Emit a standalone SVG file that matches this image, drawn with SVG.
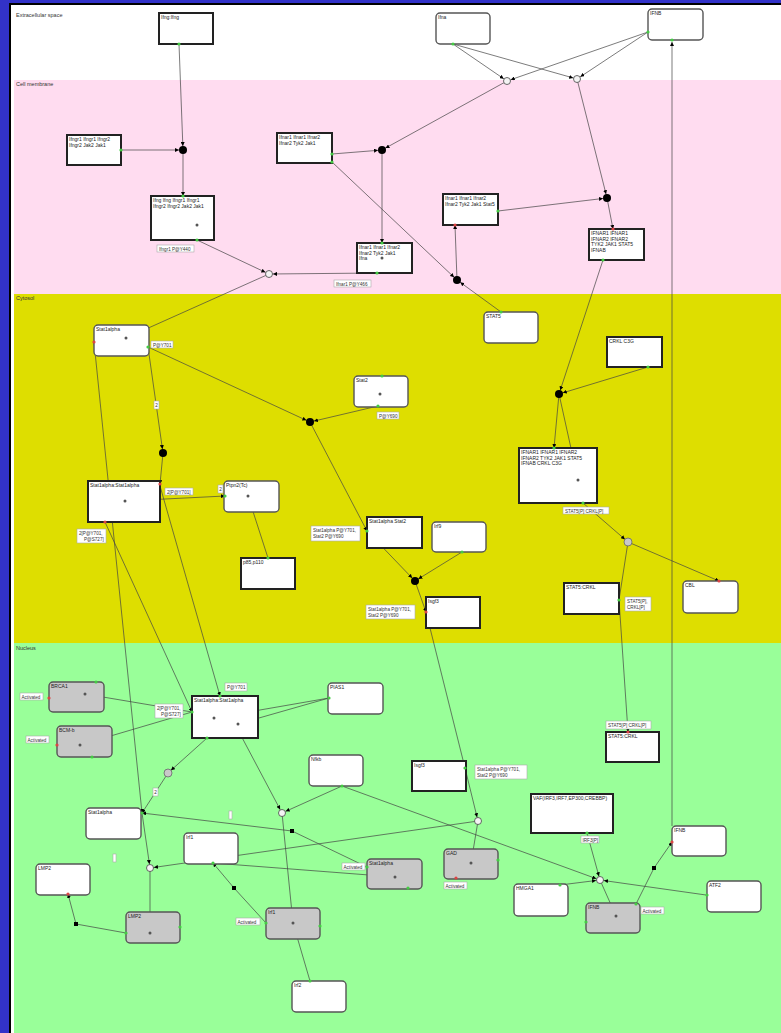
<svg xmlns="http://www.w3.org/2000/svg" width="781" height="1033" viewBox="0 0 781 1033">
<style>
.cx{fill:#fff;stroke:#222;stroke-width:2}
.pr{fill:#fff;stroke:#555;stroke-width:1.4}
.gn{fill:#c8c8c8;stroke:#555;stroke-width:1.4}
.t{font-family:"Liberation Sans",Arial,sans-serif;font-size:5px;fill:#222}
.ct{font-family:"Liberation Sans",Arial,sans-serif;font-size:5.5px;fill:#333}
.lt{font-family:"Liberation Sans",Arial,sans-serif;font-size:4.6px;fill:#333}
.lb{fill:#fff;stroke:#aaa;stroke-width:0.6}
.e{stroke:#444;stroke-width:0.7;fill:none}
.pg{fill:#44cc44}
.pd{fill:#dd4444}
.dot{fill:#000}
.pc{fill:#f4f4f4;stroke:#444;stroke-width:0.8}
.gc{fill:#c8c8c8;stroke:#666;stroke-width:0.8}
.ip{fill:#555}
</style>
<defs>
<marker id="a" viewBox="0 0 10 10" refX="10" refY="5" markerWidth="4" markerHeight="4" orient="auto" markerUnits="userSpaceOnUse"><path d="M0,0 L10,5 L0,10 z" fill="#000"/></marker>
<marker id="ad" viewBox="0 0 10 10" refX="20" refY="5" markerWidth="4" markerHeight="4" orient="auto" markerUnits="userSpaceOnUse"><path d="M0,0 L10,5 L0,10 z" fill="#000"/></marker>
</defs>
<rect x="0" y="0" width="781" height="1033" fill="#3232c8"/>
<rect x="10" y="4" width="771" height="1029" fill="#fff"/>
<path d="M10,1033 L10,4 L781,4" fill="none" stroke="#000" stroke-width="2"/>
<g id="compartments">
<rect x="14" y="80" width="767" height="214" fill="#ffdcf0"/>
<rect x="14" y="294" width="767" height="349" fill="#dede00"/>
<rect x="14" y="643" width="767" height="390" fill="#99ff99"/>
<text class="ct" x="16" y="17">Extracellular space</text>
<text class="ct" x="16" y="86">Cell membrane</text>
<text class="ct" x="16" y="300">Cytosol</text>
<text class="ct" x="16" y="650">Nucleus</text>
</g>
<g id="connectors">
<path class="e" d="M179,44 L183,150" marker-end="url(#ad)"/>
<path class="e" d="M121,150 L183,150" marker-end="url(#ad)"/>
<path class="e" d="M183,150 L183,196" marker-end="url(#a)"/>
<path class="e" d="M197,240 L269,274" marker-end="url(#ad)"/>
<path class="e" d="M377,273 L269,274" marker-end="url(#ad)"/>
<path class="e" d="M269,274 L126,338" marker-end="url(#a)"/>
<path class="e" d="M94,342 L126,338 L148,347"/>
<path class="e" d="M453,44 L507,81" marker-end="url(#ad)"/>
<path class="e" d="M453,44 L577,79" marker-end="url(#ad)"/>
<path class="e" d="M648,32 L507,81" marker-end="url(#ad)"/>
<path class="e" d="M648,32 L577,79" marker-end="url(#ad)"/>
<path class="e" d="M507,81 L382,150" marker-end="url(#ad)"/>
<path class="e" d="M577,79 L607,198" marker-end="url(#ad)"/>
<path class="e" d="M332,154 L382,150" marker-end="url(#ad)"/>
<path class="e" d="M382,150 L382,243" marker-end="url(#a)"/>
<path class="e" d="M332,162 L457,280" marker-end="url(#ad)"/>
<path class="e" d="M498,211 L607,198" marker-end="url(#ad)"/>
<path class="e" d="M607,198 L613,229" marker-end="url(#a)"/>
<path class="e" d="M501,312 L457,280" marker-end="url(#ad)"/>
<path class="e" d="M457,280 L455,225" marker-end="url(#a)"/>
<path class="e" d="M183,196 L197,225" marker-end="url(#a)"/>
<path class="e" d="M197,225 L197,240"/>
<path class="e" d="M382,243 L382,258" marker-end="url(#a)"/>
<path class="e" d="M382,258 L377,273"/>
<path class="e" d="M603,260 L559,394" marker-end="url(#ad)"/>
<path class="e" d="M648,367 L559,394" marker-end="url(#ad)"/>
<path class="e" d="M559,394 L554,448" marker-end="url(#a)"/>
<path class="e" d="M559,394 L578,480" marker-end="url(#a)"/>
<path class="e" d="M578,480 L583,503"/>
<path class="e" d="M583,503 L628,542" marker-end="url(#ad)"/>
<path class="e" d="M628,542 L719,581" marker-end="url(#a)"/>
<path class="e" d="M628,542 L619,600 L628,732" marker-end="url(#a)"/>
<path class="e" d="M148,347 L310,422" marker-end="url(#ad)"/>
<path class="e" d="M378,406 L310,422" marker-end="url(#ad)"/>
<path class="e" d="M382,376 L380,394" marker-end="url(#a)"/>
<path class="e" d="M380,394 L378,406"/>
<path class="e" d="M310,422 L367,531" marker-end="url(#a)"/>
<path class="e" d="M367,531 L415,581" marker-end="url(#ad)"/>
<path class="e" d="M462,552 L415,581" marker-end="url(#ad)"/>
<path class="e" d="M415,581 L426,612" marker-end="url(#a)"/>
<path class="e" d="M426,612 L465,768" marker-end="url(#a)"/>
<path class="e" d="M465,768 L478,821" marker-end="url(#ad)"/>
<path class="e" d="M148,347 L163,453" marker-end="url(#ad)"/>
<path class="e" d="M163,453 L160,484" marker-end="url(#a)"/>
<path class="e" d="M160,486 L220,696" marker-end="url(#a)"/>
<path class="e" d="M94,342 L142,813" marker-end="url(#a)"/>
<path class="e" d="M105,522 L192,712" marker-end="url(#a)"/>
<path class="e" d="M105,522 L125,501" marker-end="url(#a)"/>
<path class="e" d="M125,501 L225,496" marker-end="url(#a)"/>
<path class="e" d="M225,496 L248,496" marker-end="url(#a)"/>
<path class="e" d="M248,496 L268,558"/>
<path class="e" d="M49,698 L85,694 L96,682"/>
<path class="e" d="M85,694 L192,712"/>
<path class="e" d="M57,745 L80,745 L92,757"/>
<path class="e" d="M80,745 L192,712"/>
<path class="e" d="M192,712 L214,718 L207,738"/>
<path class="e" d="M220,696 L238,724"/>
<path class="e" d="M207,738 L168,773" marker-end="url(#ad)"/>
<path class="e" d="M168,773 L142,813" marker-end="url(#a)"/>
<path class="e" d="M220,696 L282,813" marker-end="url(#ad)"/>
<path class="e" d="M329,698 L214,718"/>
<path class="e" d="M329,698 L238,724"/>
<path class="e" d="M342,786 L282,813" marker-end="url(#ad)"/>
<path class="e" d="M342,786 L600,880" marker-end="url(#ad)"/>
<path class="e" d="M282,813 L293,923 L310,981"/>
<path class="e" d="M478,821 L150,868" marker-end="url(#ad)"/>
<path class="e" d="M478,821 L471,863" marker-end="url(#a)"/>
<path class="e" d="M456,878 L471,863 L498,860"/>
<path class="e" d="M367,867 L292,831 L142,813" marker-end="url(#a)"/>
<path class="e" d="M142,813 L150,868" marker-end="url(#ad)"/>
<path class="e" d="M150,868 L150,933" marker-end="url(#a)"/>
<path class="e" d="M126,933 L150,933 L180,927"/>
<path class="e" d="M126,933 L76,924 L68,894" marker-end="url(#a)"/>
<path class="e" d="M266,923 L234,888 L213,863" marker-end="url(#a)"/>
<path class="e" d="M266,923 L293,923 L320,926"/>
<path class="e" d="M367,867 L395,877 L408,888"/>
<path class="e" d="M213,863 L395,877" marker-end="url(#a)"/>
<path class="e" d="M587,833 L600,880" marker-end="url(#ad)"/>
<path class="e" d="M560,885 L600,880" marker-end="url(#ad)"/>
<path class="e" d="M706,895 L600,880" marker-end="url(#ad)"/>
<path class="e" d="M600,880 L616,916" marker-end="url(#a)"/>
<path class="e" d="M586,922 L616,916 L636,904"/>
<path class="e" d="M636,904 L654,868 L672,842" marker-end="url(#a)"/>
<path class="e" d="M672,826 L672,42" marker-end="url(#a)"/>
</g>
<g id="processes">
<circle class="dot" cx="183" cy="150" r="4"/>
<circle class="dot" cx="382" cy="150" r="4"/>
<circle class="dot" cx="607" cy="198" r="4"/>
<circle class="dot" cx="457" cy="280" r="4"/>
<circle class="dot" cx="310" cy="422" r="4"/>
<circle class="dot" cx="163" cy="453" r="4"/>
<circle class="dot" cx="559" cy="394" r="4"/>
<circle class="dot" cx="415" cy="581" r="4"/>
<circle class="pc" cx="507" cy="81" r="3.5"/>
<circle class="pc" cx="577" cy="79" r="3.5"/>
<circle class="pc" cx="269" cy="274" r="3.5"/>
<circle class="pc" cx="282" cy="813" r="3.5"/>
<circle class="pc" cx="478" cy="821" r="3.5"/>
<circle class="pc" cx="150" cy="868" r="3.5"/>
<circle class="pc" cx="600" cy="880" r="3.5"/>
<circle class="gc" cx="628" cy="542" r="4"/>
<circle class="gc" cx="168" cy="773" r="4"/>
<rect class="dot" x="290" y="829" width="4" height="4"/>
<rect class="dot" x="232" y="886" width="4" height="4"/>
<rect class="dot" x="74" y="922" width="4" height="4"/>
<rect class="dot" x="652" y="866" width="4" height="4"/>
</g>
<g id="n_ifng"><rect class="cx" x="159" y="13" width="54" height="31"/><text class="t" x="161" y="19">Ifng:Ifng</text><circle class="pg" cx="179" cy="44" r="1.6"/></g>
<g id="n_ifna"><rect class="pr" x="436" y="13" width="54" height="31" rx="4"/><text class="t" x="438" y="19">Ifna</text><circle class="pg" cx="453" cy="44" r="1.6"/></g>
<g id="n_ifnb_ex"><rect class="pr" x="648" y="9" width="55" height="31" rx="4"/><text class="t" x="650" y="15">IFNB</text><circle class="pg" cx="648" cy="32" r="1.6"/><circle class="pg" cx="672" cy="40" r="1.6"/></g>
<g id="n_ifngr"><rect class="cx" x="67" y="135" width="54" height="30"/><text class="t" x="69" y="141">Ifngr1 Ifngr1 Ifngr2</text><text class="t" x="69" y="146.5">Ifngr2 Jak2 Jak1</text><circle class="pg" cx="121" cy="150" r="1.6"/></g>
<g id="n_ifngc"><rect class="cx" x="151" y="196" width="63" height="44"/><text class="t" x="153" y="202">Ifng Ifng Ifngr1 Ifngr1</text><text class="t" x="153" y="207.5">Ifngr2 Ifngr2 Jak2 Jak1</text><circle class="ip" cx="197" cy="225" r="1.5"/><circle class="pg" cx="183" cy="196" r="1.6"/><circle class="pg" cx="197" cy="240" r="1.6"/></g>
<g id="n_ifnar"><rect class="cx" x="277" y="133" width="55" height="30"/><text class="t" x="279" y="139">Ifnar1 Ifnar1 Ifnar2</text><text class="t" x="279" y="144.5">Ifnar2 Tyk2 Jak1</text><circle class="pg" cx="332" cy="154" r="1.6"/><circle class="pg" cx="332" cy="162" r="1.6"/></g>
<g id="n_ifnar_a"><rect class="cx" x="357" y="243" width="55" height="30"/><text class="t" x="359" y="249">Ifnar1 Ifnar1 Ifnar2</text><text class="t" x="359" y="254.5">Ifnar2 Tyk2 Jak1</text><text class="t" x="359" y="260">Ifna</text><circle class="ip" cx="382" cy="258" r="1.5"/><circle class="pg" cx="382" cy="243" r="1.6"/><circle class="pg" cx="377" cy="273" r="1.6"/></g>
<g id="n_ifnar_s5"><rect class="cx" x="443" y="194" width="55" height="31"/><text class="t" x="445" y="200">Ifnar1 Ifnar1 Ifnar2</text><text class="t" x="445" y="205.5">Ifnar2 Tyk2 Jak1 Stat5</text><circle class="pg" cx="498" cy="211" r="1.6"/><circle class="pd" cx="455" cy="225" r="1.6"/></g>
<g id="n_IFNAR"><rect class="cx" x="589" y="229" width="55" height="31"/><text class="t" x="591" y="235">IFNAR1 IFNAR1</text><text class="t" x="591" y="240.5">IFNAR2 IFNAR2</text><text class="t" x="591" y="246">TYK2 JAK1 STAT5</text><text class="t" x="591" y="251.5">IFNAB</text><circle class="pd" cx="613" cy="229" r="1.6"/><circle class="pg" cx="603" cy="260" r="1.6"/></g>
<g id="n_s1a"><rect class="pr" x="94" y="325" width="55" height="31" rx="4"/><text class="t" x="96" y="331">Stat1alpha</text><circle class="ip" cx="126" cy="338" r="1.5"/><circle class="pd" cx="94" cy="342" r="1.6"/><circle class="pg" cx="148" cy="347" r="1.6"/></g>
<g id="n_stat5"><rect class="pr" x="484" y="312" width="54" height="31" rx="4"/><text class="t" x="486" y="318">STAT5</text><circle class="pg" cx="501" cy="312" r="1.6"/></g>
<g id="n_stat2"><rect class="pr" x="354" y="376" width="54" height="31" rx="4"/><text class="t" x="356" y="382">Stat2</text><circle class="ip" cx="380" cy="394" r="1.5"/><circle class="pg" cx="382" cy="376" r="1.6"/><circle class="pg" cx="378" cy="406" r="1.6"/></g>
<g id="n_crkl"><rect class="cx" x="607" y="337" width="55" height="30"/><text class="t" x="609" y="343">CRKL C3G</text><circle class="pg" cx="648" cy="367" r="1.6"/></g>
<g id="n_big"><rect class="cx" x="519" y="448" width="78" height="55"/><text class="t" x="521" y="454">IFNAR1 IFNAR1 IFNAR2</text><text class="t" x="521" y="459.5">IFNAR2 TYK2 JAK1 STAT5</text><text class="t" x="521" y="465">IFNAB CRKL C3G</text><circle class="ip" cx="578" cy="480" r="1.5"/><circle class="pg" cx="554" cy="448" r="1.6"/><circle class="pg" cx="583" cy="503" r="1.6"/></g>
<g id="n_s1s1c"><rect class="cx" x="88" y="481" width="72" height="41"/><text class="t" x="90" y="487">Stat1alpha:Stat1alpha</text><circle class="ip" cx="125" cy="501" r="1.5"/><circle class="pd" cx="160" cy="484" r="1.6"/><circle class="pd" cx="105" cy="522" r="1.6"/></g>
<g id="n_ptpn"><rect class="pr" x="224" y="481" width="55" height="31" rx="4"/><text class="t" x="226" y="487">Ptpn2(Tc)</text><circle class="ip" cx="248" cy="496" r="1.5"/><circle class="pg" cx="225" cy="496" r="1.6"/></g>
<g id="n_p85"><rect class="cx" x="241" y="558" width="54" height="31"/><text class="t" x="243" y="564">p85,p110</text><circle class="pg" cx="268" cy="558" r="1.6"/></g>
<g id="n_s1s2"><rect class="cx" x="367" y="517" width="55" height="31"/><text class="t" x="369" y="523">Stat1alpha Stat2</text><circle class="pg" cx="367" cy="531" r="1.6"/></g>
<g id="n_irf9"><rect class="pr" x="432" y="522" width="54" height="30" rx="4"/><text class="t" x="434" y="528">Irf9</text><circle class="pg" cx="462" cy="552" r="1.6"/></g>
<g id="n_isgf3c"><rect class="cx" x="426" y="597" width="54" height="31"/><text class="t" x="428" y="603">Isgf3</text><circle class="pd" cx="426" cy="612" r="1.6"/></g>
<g id="n_s5crkl_c"><rect class="cx" x="564" y="583" width="55" height="31"/><text class="t" x="566" y="589">STAT5:CRKL</text><circle class="pg" cx="619" cy="600" r="1.6"/></g>
<g id="n_cbl"><rect class="pr" x="683" y="581" width="55" height="32" rx="4"/><text class="t" x="685" y="587">CBL</text><circle class="pd" cx="719" cy="581" r="1.6"/></g>
<g id="n_brca1"><rect class="gn" x="49" y="682" width="55" height="30" rx="4"/><text class="t" x="51" y="688">BRCA1</text><circle class="ip" cx="85" cy="694" r="1.5"/><circle class="pd" cx="49" cy="698" r="1.6"/><circle class="pg" cx="96" cy="682" r="1.6"/></g>
<g id="n_bcm"><rect class="gn" x="57" y="726" width="55" height="31" rx="4"/><text class="t" x="59" y="732">BCM-b</text><circle class="ip" cx="80" cy="745" r="1.5"/><circle class="pd" cx="57" cy="745" r="1.6"/><circle class="pg" cx="92" cy="757" r="1.6"/></g>
<g id="n_s1s1n"><rect class="cx" x="192" y="696" width="66" height="42"/><text class="t" x="194" y="702">Stat1alpha:Stat1alpha</text><circle class="ip" cx="214" cy="718" r="1.5"/><circle class="ip" cx="238" cy="724" r="1.5"/><circle class="pg" cx="220" cy="696" r="1.6"/><circle class="pg" cx="192" cy="712" r="1.6"/><circle class="pg" cx="207" cy="738" r="1.6"/></g>
<g id="n_pias"><rect class="pr" x="328" y="683" width="55" height="31" rx="4"/><text class="t" x="330" y="689">PIAS1</text><circle class="pg" cx="329" cy="698" r="1.6"/></g>
<g id="n_s5crkl_n"><rect class="cx" x="606" y="732" width="53" height="30"/><text class="t" x="608" y="738">STAT5:CRKL</text><circle class="pd" cx="628" cy="732" r="1.6"/></g>
<g id="n_nfkb"><rect class="pr" x="309" y="755" width="54" height="31" rx="4"/><text class="t" x="311" y="761">Nfkb</text><circle class="pg" cx="342" cy="786" r="1.6"/></g>
<g id="n_isgf3n"><rect class="cx" x="412" y="761" width="54" height="30"/><text class="t" x="414" y="767">Isgf3</text><circle class="pg" cx="465" cy="768" r="1.6"/></g>
<g id="n_vaf"><rect class="cx" x="531" y="794" width="82" height="39"/><text class="t" x="533" y="800">VAF(IRF3,IRF7,EP300,CREBBP)</text><circle class="pg" cx="587" cy="833" r="1.6"/></g>
<g id="n_s1an"><rect class="pr" x="86" y="808" width="55" height="31" rx="4"/><text class="t" x="88" y="814">Stat1alpha</text><circle class="pg" cx="142" cy="813" r="1.6"/></g>
<g id="n_irf1"><rect class="pr" x="184" y="833" width="54" height="31" rx="4"/><text class="t" x="186" y="839">Irf1</text><circle class="pg" cx="213" cy="863" r="1.6"/></g>
<g id="n_lmp2"><rect class="pr" x="36" y="864" width="54" height="31" rx="4"/><text class="t" x="38" y="870">LMP2</text><circle class="pd" cx="68" cy="894" r="1.6"/></g>
<g id="n_s1ag"><rect class="gn" x="367" y="859" width="55" height="30" rx="4"/><text class="t" x="369" y="865">Stat1alpha</text><circle class="ip" cx="395" cy="877" r="1.5"/><circle class="pg" cx="367" cy="867" r="1.6"/><circle class="pg" cx="408" cy="888" r="1.6"/></g>
<g id="n_gad"><rect class="gn" x="444" y="849" width="54" height="30" rx="4"/><text class="t" x="446" y="855">GAD</text><circle class="ip" cx="471" cy="863" r="1.5"/><circle class="pg" cx="498" cy="860" r="1.6"/><circle class="pd" cx="456" cy="878" r="1.6"/></g>
<g id="n_ifnbn"><rect class="pr" x="672" y="826" width="54" height="30" rx="4"/><text class="t" x="674" y="832">IFNB</text><circle class="pd" cx="672" cy="842" r="1.6"/></g>
<g id="n_hmga1"><rect class="pr" x="514" y="884" width="54" height="32" rx="4"/><text class="t" x="516" y="890">HMGA1</text><circle class="pg" cx="560" cy="885" r="1.6"/></g>
<g id="n_atf2"><rect class="pr" x="707" y="881" width="54" height="31" rx="4"/><text class="t" x="709" y="887">ATF2</text><circle class="pg" cx="707" cy="895" r="1.6"/></g>
<g id="n_ifnbg"><rect class="gn" x="586" y="903" width="54" height="30" rx="4"/><text class="t" x="588" y="909">IFNB</text><circle class="ip" cx="616" cy="916" r="1.5"/><circle class="pg" cx="586" cy="922" r="1.6"/><circle class="pg" cx="636" cy="904" r="1.6"/></g>
<g id="n_lmp2g"><rect class="gn" x="126" y="912" width="54" height="31" rx="4"/><text class="t" x="128" y="918">LMP2</text><circle class="ip" cx="150" cy="933" r="1.5"/><circle class="pg" cx="126" cy="933" r="1.6"/><circle class="pg" cx="180" cy="927" r="1.6"/></g>
<g id="n_irf1g"><rect class="gn" x="266" y="908" width="54" height="31" rx="4"/><text class="t" x="268" y="914">Irf1</text><circle class="ip" cx="293" cy="923" r="1.5"/><circle class="pg" cx="266" cy="923" r="1.6"/><circle class="pg" cx="320" cy="926" r="1.6"/></g>
<g id="n_irf2"><rect class="pr" x="292" y="981" width="54" height="31" rx="4"/><text class="t" x="294" y="987">Irf2</text><circle class="pg" cx="310" cy="981" r="1.6"/></g>
<g id="labels">
<rect class="lb" x="157" y="245" width="37" height="7"/><text class="lt" x="159" y="250.5">Ifngr1 P@Y440</text>
<rect class="lb" x="334" y="280" width="37" height="7"/><text class="lt" x="336" y="285.5">Ifnar1 P@Y466</text>
<rect class="lb" x="151" y="341" width="22" height="7"/><text class="lt" x="153" y="346.5">P@Y701</text>
<rect class="lb" x="154" y="401" width="5" height="8"/><text class="lt" x="155.3" y="407">2</text>
<rect class="lb" x="377" y="412" width="22" height="7"/><text class="lt" x="379" y="417.5">P@Y690</text>
<rect class="lb" x="165" y="488" width="28" height="7"/><text class="lt" x="167" y="493.5">2[P@Y701]</text>
<rect class="lb" x="218" y="485" width="5" height="8"/><text class="lt" x="219.3" y="491">2</text>
<rect class="lb" x="77" y="529" width="29" height="14"/><text class="lt" x="79" y="534.5">2[P@Y701,</text><text class="lt" x="84" y="540.5">P@S727]</text>
<rect class="lb" x="311" y="526" width="49" height="15"/><text class="lt" x="313" y="532">Stat1alpha P@Y701,</text><text class="lt" x="313" y="538">Stat2 P@Y690</text>
<rect class="lb" x="366" y="605" width="49" height="14"/><text class="lt" x="368" y="611">Stat1alpha P@Y701,</text><text class="lt" x="368" y="617">Stat2 P@Y690</text>
<rect class="lb" x="563" y="507" width="46" height="7"/><text class="lt" x="565" y="512.5">STAT5[P] CRKL[P]</text>
<rect class="lb" x="625" y="597" width="26" height="14"/><text class="lt" x="627" y="602.5">STAT5[P],</text><text class="lt" x="627" y="608.5">CRKL[P]</text>
<rect class="lb" x="606" y="721" width="45" height="8"/><text class="lt" x="608" y="727">STAT5[P] CRKL[P]</text>
<rect class="lb" x="225" y="683" width="22" height="8"/><text class="lt" x="227" y="689">P@Y701</text>
<rect class="lb" x="155" y="704" width="28" height="14"/><text class="lt" x="157" y="709.5">2[P@Y701,</text><text class="lt" x="161" y="715.5">P@S727]</text>
<rect class="lb" x="20" y="693" width="23" height="7"/><text class="lt" x="21.5" y="698.5">Activated</text>
<rect class="lb" x="26" y="736" width="23" height="7"/><text class="lt" x="27.5" y="741.5">Activated</text>
<rect class="lb" x="153" y="788" width="5" height="8"/><text class="lt" x="154.3" y="794">2</text>
<rect class="lb" x="113" y="854" width="3" height="8"/>
<rect class="lb" x="229" y="811" width="3" height="8"/>
<rect class="lb" x="475" y="765" width="52" height="14"/><text class="lt" x="477" y="771">Stat1alpha P@Y701,</text><text class="lt" x="477" y="777">Stat2 P@Y690</text>
<rect class="lb" x="342" y="863" width="23" height="7"/><text class="lt" x="343.5" y="868.5">Activated</text>
<rect class="lb" x="444" y="882" width="23" height="7"/><text class="lt" x="445.5" y="887.5">Activated</text>
<rect class="lb" x="236" y="918" width="24" height="7"/><text class="lt" x="237.5" y="923.5">Activated</text>
<rect class="lb" x="581" y="836" width="18" height="7"/><text class="lt" x="582.5" y="841.5">IRF3[P]</text>
<rect class="lb" x="641" y="907" width="23" height="7"/><text class="lt" x="642.5" y="912.5">Activated</text>
</g>
</svg>
